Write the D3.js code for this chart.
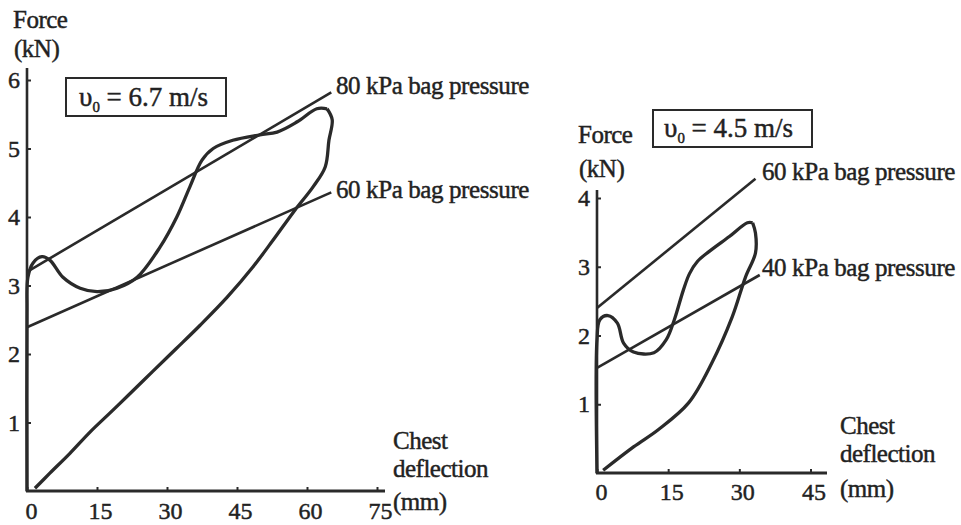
<!DOCTYPE html>
<html><head><meta charset="utf-8">
<script src="https://cdn.jsdelivr.net/npm/d3@7"></script>
<style>
html,body{margin:0;padding:0;background:#fff;}
svg text{font-family:"Liberation Serif","Times New Roman",serif;fill:#222;stroke:#222;stroke-width:0.45px;}
</style></head>
<body>
<svg id="c" width="961" height="525"></svg>
<script>
// ---------- DATA ----------
// Left panel: v0 = 6.7 m/s
const leftXTicks = [0, 15, 30, 45, 60, 75];
const leftYTicks = [1, 2, 3, 4, 5, 6];
const leftLoadX = [0, 0, 0.2, 1.3, 3.2, 4.9, 7.7, 11.4, 15, 19.3, 23.6, 28.5, 32.1, 34.9, 37.5, 39.9, 44.1, 49.9, 53.6, 57.9, 62.1, 64.3];
const leftLoadY = [0, 2.6, 3.12, 3.33, 3.42, 3.37, 3.12, 2.96, 2.91, 2.96, 3.12, 3.56, 4.0, 4.44, 4.83, 5.0, 5.12, 5.2, 5.24, 5.39, 5.58, 5.58];
const leftUnloadX = [64.3, 65.4, 64.7, 63.9, 61.3, 57.4, 52.7, 48.4, 42.9, 37.1, 32, 27, 21.6, 17.8, 13.5, 9.2, 4.9, 1.7];
const leftUnloadY = [5.58, 5.42, 5.12, 4.73, 4.44, 4.10, 3.66, 3.27, 2.83, 2.42, 2.08, 1.75, 1.39, 1.14, 0.86, 0.55, 0.26, 0.04];
const left80X = [0, 65.2], left80Y = [3.2, 5.82];
const left60X = [0, 65.2], left60Y = [2.39, 4.36];
const leftLabels = ["80 kPa bag pressure", "60 kPa bag pressure"];
const leftBox = {sym: "υ", sub: "0", text: " = 6.7 m/s"};

// Right panel: v0 = 4.5 m/s
const rightXTicks = [0, 15, 30, 45];
const rightYTicks = [1, 2, 3, 4];
const rightLoadX = [0, 0, 0.6, 2.3, 4.3, 5.6, 7.7, 12, 14.6, 16.3, 18.2, 19.5, 21.2, 23.6, 27.9, 31.7, 32.8];
const rightLoadY = [0, 1.94, 2.23, 2.29, 2.18, 1.89, 1.76, 1.75, 1.94, 2.23, 2.66, 2.9, 3.08, 3.22, 3.44, 3.64, 3.64];
const rightUnloadX = [32.8, 33.4, 33.4, 31.3, 28.5, 24.2, 19.3, 12.9, 7.7, 1.3];
const rightUnloadY = [3.64, 3.49, 3.2, 2.85, 2.27, 1.6, 1.02, 0.63, 0.38, 0.04];
const right60X = [0, 33.4], right60Y = [2.40, 4.28];
const right40X = [0, 34.3], right40Y = [1.53, 2.88];
const rightLabels = ["60 kPa bag pressure", "40 kPa bag pressure"];
const rightBox = {sym: "υ", sub: "0", text: " = 4.5 m/s"};

// ---------- DRAW ----------
const svg = d3.select("#c");
const INK = "#2a2a2a";

function zip(xs, ys){ return xs.map((x,i)=>[x, ys[i]]); }

function panel(o){
  const x = d3.scaleLinear().domain(o.xDom).range(o.xRange);
  const y = d3.scaleLinear().domain(o.yDom).range(o.yRange);
  const g = svg.append("g");
  const x0 = x(0), y0 = y(0);

  // axis lines
  g.append("line").attr("x1", x0).attr("x2", x0).attr("y1", y0 + 1).attr("y2", o.yTop)
    .attr("stroke", INK).attr("stroke-width", 2.6);
  g.append("line").attr("x1", x0 - 1).attr("x2", o.xEnd).attr("y1", y0).attr("y2", y0)
    .attr("stroke", INK).attr("stroke-width", 2.8);

  // axes via d3
  const ax = d3.axisBottom(x).tickValues(o.xTicks).tickFormat(d3.format("d"))
    .tickSizeInner(-4).tickSizeOuter(0).tickPadding(o.xPad);
  const gx = g.append("g").attr("transform", `translate(0,${y0})`).call(ax);
  gx.select(".domain").remove();
  gx.selectAll(".tick line").attr("stroke", INK).attr("stroke-width", 2);
  gx.selectAll(".tick text").attr("font-size", o.tickFont).attr("fill", "#222")
    .attr("font-family", "Liberation Serif").attr("dx", d => d === 0 ? 4 : 3);

  const ay = d3.axisLeft(y).tickValues(o.yTicks).tickFormat(d3.format("d"))
    .tickSizeInner(-4).tickSizeOuter(0).tickPadding(o.yPad);
  const gy = g.append("g").attr("transform", `translate(${x0},0)`).call(ay);
  gy.select(".domain").remove();
  gy.selectAll(".tick line").attr("stroke", INK).attr("stroke-width", 2);
  gy.selectAll(".tick text").attr("font-size", o.tickFont).attr("fill", "#222")
    .attr("font-family", "Liberation Serif");

  const line = d3.line().x(d => x(d[0])).y(d => y(d[1]));
  const curve = d3.line().x(d => x(d[0])).y(d => y(d[1])).curve(d3.curveCatmullRom.alpha(0.5));

  // reference lines
  o.refs.forEach(r => {
    g.append("path").attr("d", line(zip(r[0], r[1]))).attr("fill", "none")
      .attr("stroke", INK).attr("stroke-width", 2.6);
  });
  // loading / unloading curves
  g.append("path").attr("d", curve(zip(o.loadX, o.loadY))).attr("fill", "none")
    .attr("stroke", INK).attr("stroke-width", 3.3).attr("stroke-linejoin", "round");
  g.append("path").attr("d", curve(zip(o.unX, o.unY))).attr("fill", "none")
    .attr("stroke", INK).attr("stroke-width", 3.3).attr("stroke-linejoin", "round");

  // line labels
  o.labels.forEach((t, i) => {
    g.append("text").attr("x", o.labelPos[i][0]).attr("y", o.labelPos[i][1])
      .attr("font-size", o.labelFont).attr("letter-spacing", -0.4).text(t);
  });

  // axis titles
  o.titles.forEach(t => {
    g.append("text").attr("x", t[0]).attr("y", t[1]).attr("font-size", t[3])
      .attr("letter-spacing", -0.5).text(t[2]);
  });

  // velocity box
  const b = o.box;
  g.append("rect").attr("x", b.x).attr("y", b.y).attr("width", b.w).attr("height", b.h)
    .attr("fill", "none").attr("stroke", INK).attr("stroke-width", 2);
  const bt = g.append("text").attr("x", b.tx).attr("y", b.ty).attr("font-size", b.fs);
  bt.append("tspan").text(o.boxText.sym);
  bt.append("tspan").attr("font-size", b.fs * 0.55).attr("dy", 6).text(o.boxText.sub);
  bt.append("tspan").attr("dy", -6).text(o.boxText.text);
}

panel({
  xDom: [0, 75], xRange: [27, 377], yDom: [0, 6], yRange: [491, 80],
  yTop: 68, xEnd: 385, xTicks: leftXTicks, yTicks: leftYTicks,
  xPad: 11, yPad: 7, tickFont: 24, labelFont: 25,
  loadX: leftLoadX, loadY: leftLoadY, unX: leftUnloadX, unY: leftUnloadY,
  refs: [[left80X, left80Y], [left60X, left60Y]],
  labels: leftLabels, labelPos: [[336, 94], [336, 198]],
  titles: [[13, 28, "Force", 25], [14, 57, "(kN)", 25],
           [393, 449, "Chest", 25], [393, 477, "deflection", 25], [393, 510, "(mm)", 25]],
  box: {x: 66, y: 78, w: 160, h: 38, tx: 79, ty: 106, fs: 27},
  boxText: leftBox
});

panel({
  xDom: [0, 45], xRange: [597, 810.5], yDom: [0, 4], yRange: [473, 198],
  yTop: 190, xEnd: 827, xTicks: rightXTicks, yTicks: rightYTicks,
  xPad: 10, yPad: 7, tickFont: 24, labelFont: 25,
  loadX: rightLoadX, loadY: rightLoadY, unX: rightUnloadX, unY: rightUnloadY,
  refs: [[right60X, right60Y], [right40X, right40Y]],
  labels: rightLabels, labelPos: [[762, 180], [762, 276]],
  titles: [[578, 143, "Force", 25], [579, 177, "(kN)", 25],
           [840, 434, "Chest", 25], [840, 462, "deflection", 25], [840, 497, "(mm)", 25]],
  box: {x: 653, y: 110, w: 159, h: 37, tx: 664, ty: 137, fs: 27},
  boxText: rightBox
});
</script>
</body></html>
